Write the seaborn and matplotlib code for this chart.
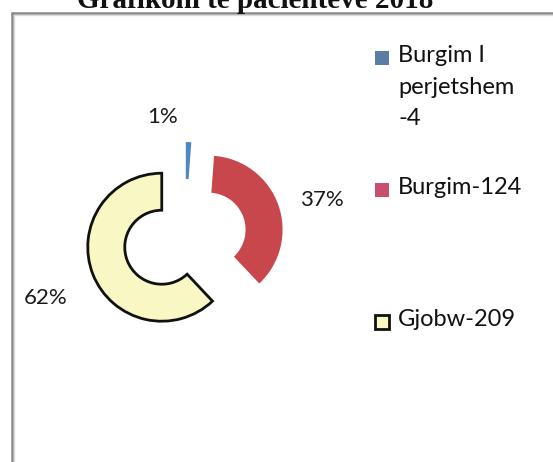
import matplotlib
matplotlib.use("Agg")
import matplotlib.pyplot as plt
from matplotlib.patches import Rectangle
from matplotlib.lines import Line2D
import seaborn as sns

# Patient categories for 2018
categories = ["Burgim I perjetshem", "Burgim", "Gjobw"]
counts = [4, 124, 209]
legend_labels = ["Burgim I\nperjetshem\n-4", "Burgim-124", "Gjobw-209"]
title = "Grafikoni te pacientëve 2018"

wedge_colors = ["#4f86c6", "#c8474c", "#f9f8c4"]
legend_colors = ["#5b7ca6", "#c8506e", "#f9f8c4"]

sns.set_theme(style="white")
plt.rcParams["font.family"] = ["Lato", "DejaVu Sans"]

W, H = 553, 462
fig = plt.figure(figsize=(W / 100, H / 100), dpi=100)
fig.patch.set_facecolor("white")

# axes in pixel units, y measured upward
ax = fig.add_axes([0, 0, 1, 1])
ax.set_xlim(0, W)
ax.set_ylim(0, H)
ax.set_aspect("equal")
ax.axis("off")

def fy(y):
    return H - y

# frame around the chart (top and left edges visible)
ax.add_line(Line2D([12, W + 5], [fy(13), fy(13)], color="#8a8a8a", lw=1.8))
ax.add_line(Line2D([12, 12], [fy(13), -5], color="#8a8a8a", lw=1.8))
ax.add_line(Line2D([14, W + 5], [fy(14.8), fy(14.8)], color="#dcdcdc", lw=1.0))
ax.add_line(Line2D([13.8, 13.8], [fy(14.8), -5], color="#dcdcdc", lw=1.0))

# title, partly running off the top edge
fig.text(255 / W, 1 - 8 / H, title, ha="center", va="baseline",
         fontsize=21, fontweight="bold", family=["Liberation Serif", "DejaVu Serif"],
         color="#111111")

radius = 74
wedges, _, autotexts = ax.pie(
    counts,
    colors=wedge_colors,
    startangle=90,
    counterclock=False,
    center=(185, fy(238)),
    radius=radius,
    explode=[22, 25, 25],
    autopct="%1.0f%%",
    pctdistance=1.6,
    wedgeprops=dict(width=37, linewidth=0),
    textprops=dict(fontsize=16, color="#1a1a1a"),
    frame=True,
)
ax.set_xlim(0, W)
ax.set_ylim(0, H)
ax.axis("off")
wedges[2].set_edgecolor("#111111")
wedges[2].set_linewidth(2.0)

label_pos = [(163, 117), (322, 200), (46, 298)]
for t, (x, y) in zip(autotexts, label_pos):
    t.set_position((x, fy(y)))
    t.set_ha("center")
    t.set_va("center")

# legend
legend_y = [58, 190, 322]
for lab, col, y, k in zip(legend_labels, legend_colors, legend_y, range(3)):
    edge = "#111111" if k == 2 else "none"
    lw = 2.0 if k == 2 else 0
    ax.add_patch(Rectangle((375, fy(y) - 7), 14, 14, facecolor=col,
                           edgecolor=edge, linewidth=lw))
    ax.text(398, fy(y) + 12.5, lab, ha="left", va="top", fontsize=17,
            color="#111111", linespacing=1.6)

fig.savefig("out.png", dpi=100, facecolor="white")
